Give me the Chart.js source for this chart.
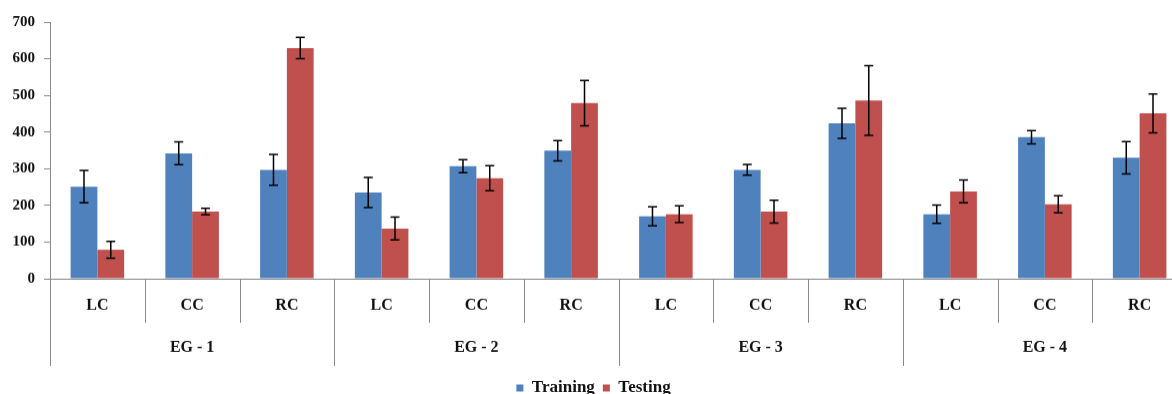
<!DOCTYPE html>
<html>
<head>
<meta charset="utf-8">
<title>Training vs Testing by EG group</title>
<script src="https://cdn.jsdelivr.net/npm/chart.js@4.4.1/dist/chart.umd.min.js"></script>
<style>
  html, body { margin: 0; padding: 0; background: #ffffff; overflow: hidden; }
  #wrap { position: relative; width: 1190px; height: 405.5px; }
</style>
</head>
<body>
<div id="wrap"><canvas id="chart"></canvas></div>
<script>
// Sub-categories along the axis, and the groups they belong to (3 per group)
const categories = ['LC', 'CC', 'RC', 'LC', 'CC', 'RC', 'LC', 'CC', 'RC', 'LC', 'CC', 'RC'];
const groups = ['EG - 1', 'EG - 2', 'EG - 3', 'EG - 4'];
const perGroup = 3;

// Mean values and their error half-widths
const trainingMeans  = [251, 342, 297, 235, 307, 349, 170, 297, 424, 176, 386, 330];
const trainingErrors = [ 44,  31,  42,  41,  18,  28,  26,  15,  41,  25,  18,  44];
const testingMeans   = [ 79, 183, 629, 137, 274, 479, 176, 183, 486, 238, 203, 451];
const testingErrors  = [ 23,   9,  29,  31,  34,  62,  23,  31,  95,  31,  23,  53];

// Value axis
const yMin = 0;
const yMax = 700;
const yStep = 100;

const AXIS_GREY = '#8a8a8a';
const TEXT = '#111111';
const FONT_FAMILY = '"Liberation Serif", "Times New Roman", serif';

// Draws symmetric error bars on top of every bar
const errorBars = {
  id: 'errorBars',
  afterDatasetsDraw(chart) {
    const ctx = chart.ctx;
    const y = chart.scales.y;
    ctx.save();
    ctx.strokeStyle = '#000000';
    ctx.lineWidth = 1.5;
    chart.data.datasets.forEach((ds, di) => {
      const meta = chart.getDatasetMeta(di);
      meta.data.forEach((bar, i) => {
        const v = ds.data[i];
        const e = ds.errors[i];
        const top = y.getPixelForValue(v + e);
        const bottom = y.getPixelForValue(v - e);
        const cap = 4.5;
        ctx.beginPath();
        ctx.moveTo(bar.x, top);
        ctx.lineTo(bar.x, bottom);
        ctx.moveTo(bar.x - cap, top);
        ctx.lineTo(bar.x + cap, top);
        ctx.moveTo(bar.x - cap, bottom);
        ctx.lineTo(bar.x + cap, bottom);
        ctx.stroke();
      });
    });
    ctx.restore();
  }
};

// Divider lines between categories and groups, plus the group labels
const groupAxis = {
  id: 'groupAxis',
  afterDraw(chart) {
    const ctx = chart.ctx;
    const x = chart.scales.x;
    const base = chart.chartArea.bottom;
    ctx.save();
    ctx.strokeStyle = AXIS_GREY;
    ctx.lineWidth = 1;
    for (let i = 0; i <= categories.length; i++) {
      const px = Math.round(x.getPixelForValue(i - 0.5)) + 0.5;
      const long = i % perGroup === 0;
      ctx.beginPath();
      ctx.moveTo(px, base);
      ctx.lineTo(px, base + (long ? 87 : 44));
      ctx.stroke();
    }
    ctx.fillStyle = TEXT;
    ctx.font = 'bold 16px ' + FONT_FAMILY;
    ctx.textAlign = 'center';
    ctx.textBaseline = 'middle';
    groups.forEach((g, gi) => {
      const cx = x.getPixelForValue(gi * perGroup + (perGroup - 1) / 2);
      ctx.fillText(g, cx, base + 69);
    });
    ctx.restore();
  }
};

new Chart(document.getElementById('chart'), {
  type: 'bar',
  data: {
    labels: categories,
    datasets: [
      {
        label: 'Training',
        data: trainingMeans,
        errors: trainingErrors,
        backgroundColor: '#4f81bd',
        borderWidth: 0,
        categoryPercentage: 0.565,
        barPercentage: 1.0
      },
      {
        label: 'Testing',
        data: testingMeans,
        errors: testingErrors,
        backgroundColor: '#c0504d',
        borderWidth: 0,
        categoryPercentage: 0.565,
        barPercentage: 1.0
      }
    ]
  },
  options: {
    responsive: true,
    maintainAspectRatio: false,
    animation: false,
    layout: { padding: { top: 22, right: 3, left: 0, bottom: 0 } },
    plugins: {
      tooltip: { enabled: false },
      legend: {
        position: 'bottom',
        labels: {
          boxWidth: 7,
          boxHeight: 7,
          padding: 8,
          color: TEXT,
          font: { family: FONT_FAMILY, size: 17, weight: 'bold' }
        }
      }
    },
    scales: {
      x: {
        grid: { display: false },
        border: { display: true, color: AXIS_GREY, width: 1 },
        ticks: {
          padding: 9.5,
          color: TEXT,
          font: { family: FONT_FAMILY, size: 16, weight: 'bold' }
        },
        afterFit(scale) { scale.height = 92.5; }
      },
      y: {
        min: yMin,
        max: yMax,
        grid: { display: true, drawOnChartArea: false, tickLength: 6, color: AXIS_GREY },
        border: { display: true, color: AXIS_GREY, width: 1 },
        ticks: {
          stepSize: yStep,
          padding: 9,
          color: TEXT,
          font: { family: FONT_FAMILY, size: 15, weight: 'bold' }
        },
        afterFit(scale) { scale.width = 50; }
      }
    }
  },
  plugins: [errorBars, groupAxis]
});
</script>
</body>
</html>
